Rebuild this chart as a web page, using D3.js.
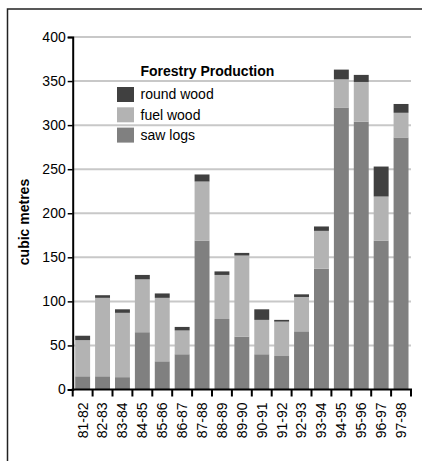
<!DOCTYPE html>
<html>
<head>
<meta charset="utf-8">
<script src="https://cdn.jsdelivr.net/npm/d3@7"></script>
<style>
  body { margin: 0; background: #fff; }
  svg { display: block; font-family: 'Liberation Sans', Arial, sans-serif; }
</style>
</head>
<body>
<div id="chart"></div>
<script>
const years = ['81-82', '82-83', '83-84', '84-85', '85-86', '86-87', '87-88', '88-89',
  '89-90', '90-91', '91-92', '92-93', '93-94', '94-95', '95-96', '96-97', '97-98']
const sawLogs = [15, 15, 14, 65, 32, 40, 169, 80, 60, 40, 38, 66, 137, 320, 304, 169, 286]
const fuelWood = [41, 89, 73, 60, 72, 27, 67, 50, 92, 39, 39, 39, 43, 32, 45, 50, 28]
const roundWood = [5, 3, 4, 5, 5, 4, 8, 4, 3, 12, 2, 3, 5, 11, 8, 34, 10]
const yTicks = [0, 50, 100, 150, 200, 250, 300, 350, 400]

const seriesNames = ['saw logs', 'fuel wood', 'round wood']
const colors = { 'saw logs': '#808080', 'fuel wood': '#b3b3b3', 'round wood': '#404040' }

const width = 422
const height = 461
const x0 = 72.7
const x1 = 411
const yTop = 37
const yBase = 389.5

const svg = d3.select('#chart').append('svg').attr('width', width).attr('height', height)

// frame
svg.append('rect')
  .attr('x', 7.5).attr('y', 9)
  .attr('width', 430).attr('height', 470)
  .attr('fill', 'none').attr('stroke', '#222').attr('stroke-width', 1.5)

const table = years.map((yr, i) => ({
  year: yr,
  'saw logs': sawLogs[i],
  'fuel wood': fuelWood[i],
  'round wood': roundWood[i],
}))

const xScale = d3.scaleBand().domain(years).range([x0, x1]).paddingInner(0.25).paddingOuter(0.125)
const step = (x1 - x0) / years.length
const yScale = d3.scaleLinear().domain([0, 400]).range([yBase, yTop])

// grid
svg.append('g')
  .selectAll('line')
  .data(yTicks.filter(d => d > 0))
  .join('line')
  .attr('x1', x0).attr('x2', x1)
  .attr('y1', d => yScale(d)).attr('y2', d => yScale(d))
  .attr('stroke', '#c8c8c8').attr('stroke-width', 2)

// bars
const stacked = d3.stack().keys(seriesNames)(table)
svg.append('g')
  .selectAll('g')
  .data(stacked)
  .join('g')
  .attr('fill', s => colors[s.key])
  .selectAll('rect')
  .data(s => s)
  .join('rect')
  .attr('x', d => xScale(d.data.year))
  .attr('width', xScale.bandwidth())
  .attr('y', d => yScale(d[1]))
  .attr('height', d => yScale(d[0]) - yScale(d[1]))

// y axis
svg.append('g')
  .attr('transform', `translate(${x0}, 0)`)
  .call(d3.axisLeft(yScale).tickValues(yTicks).tickSize(5).tickPadding(2))
  .call(g => {
    g.select('.domain').attr('stroke', '#000').attr('stroke-width', 2)
    g.selectAll('.tick line').attr('stroke', '#000').attr('stroke-width', 1.5)
    g.selectAll('.tick text').attr('fill', '#000').style('font-size', '14px')
      .style('font-family', "'Liberation Sans', Arial, sans-serif")
  })

// x axis
const xAxis = svg.append('g').attr('transform', `translate(0, ${yBase})`)
xAxis.append('line')
  .attr('x1', x0 - 1).attr('x2', x1 + 1)
  .attr('stroke', '#000').attr('stroke-width', 2)
xAxis.selectAll('line.tick')
  .data(d3.range(years.length + 1))
  .join('line')
  .attr('class', 'tick')
  .attr('x1', i => x0 + i * step).attr('x2', i => x0 + i * step)
  .attr('y1', 0).attr('y2', 7)
  .attr('stroke', '#000').attr('stroke-width', 2)
xAxis.selectAll('text')
  .data(years)
  .join('text')
  .attr('transform', d => `translate(${xScale(d) + xScale.bandwidth() / 2}, 13) rotate(-90)`)
  .attr('text-anchor', 'end')
  .attr('dy', '0.35em')
  .style('font-size', '14px')
  .text(d => d)

// y label
svg.append('text')
  .attr('transform', 'translate(24, 222) rotate(-90)')
  .attr('text-anchor', 'middle')
  .attr('dy', '0.35em')
  .style('font-size', '14px')
  .style('font-weight', 'bold')
  .text('cubic metres')

// legend
const legend = svg.append('g').attr('transform', 'translate(117, 87)')
legend.append('text')
  .attr('x', 23.5).attr('y', -11.5)
  .style('font-size', '14px')
  .style('font-weight', 'bold')
  .text('Forestry Production')
const legendItems = ['round wood', 'fuel wood', 'saw logs']
legend.selectAll('rect')
  .data(legendItems)
  .join('rect')
  .attr('x', 0).attr('y', (d, i) => i * 20.3)
  .attr('width', 17).attr('height', 15)
  .attr('fill', d => colors[d])
legend.selectAll('text.item')
  .data(legendItems)
  .join('text')
  .attr('class', 'item')
  .attr('x', 23.5).attr('y', (d, i) => i * 20.3 + 7.5)
  .attr('dy', '0.35em')
  .style('font-size', '14px')
  .text(d => d)
</script>
</body>
</html>
